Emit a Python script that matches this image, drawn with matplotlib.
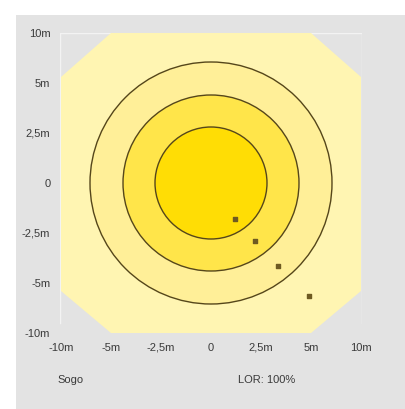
import numpy as np
import matplotlib
matplotlib.use("Agg")
import matplotlib.pyplot as plt
from matplotlib.patches import Circle, Polygon, Rectangle

plt.rcParams["font.family"] = ["Liberation Sans", "DejaVu Sans"]

# illuminance rings (radius in metres), outermost first
ring_radius = [7.1, 4.4, 2.8]
ring_colors = ["#FFEF98", "#FFE54A", "#FFDD05"]
# luminaire-area outline (metres)
area_x = [-5, 5, 10, 10, 5, -5, -10, -10]
area_y = [10, 10, 5.6, -5.8, -10, -10, -5.8, 5.6]
# small markers (metres)
mark_x = [1.2, 2.2, 3.35, 4.9]
mark_y = [-1.8, -2.9, -4.15, -6.3]
tick_vals = [-10, -5, -2.5, 0, 2.5, 5, 10]
tick_labels = ["-10m", "-5m", "-2,5m", "0", "2,5m", "5m", "10m"]
ytick_labels = ["-10m", "-5m", "-2,5m", "0", "2,5m", "5m", "10m"]

# the drawing's scale is not linear: 2.5m -> 50, 5m -> 100, 10m -> 150
scale_m = [-10, -5, -2.5, 0, 2.5, 5, 10]
scale_u = [-150, -100, -50, 0, 50, 100, 150]


def to_u(v):
    return np.interp(v, scale_m, scale_u)


fig = plt.figure(figsize=(4.06, 4.09), dpi=100)
fig.patch.set_facecolor("white")
fig.patches.append(Rectangle((16 / 406, 0), 1, (409 - 15) / 409,
                             transform=fig.transFigure, facecolor="#E3E3E3",
                             edgecolor="none", zorder=-10))

ax = fig.add_axes([60 / 406, (409 - 333) / 409, 302 / 406, 300 / 409])
ax.set_facecolor("none")
ax.set_xlim(-151, 151)
ax.set_ylim(-150, 150)
for s in ax.spines.values():
    s.set_visible(False)

# faint grid
for gx in [-151, -100, 100, 151]:
    ax.plot([gx, gx], [-140, 150], color="#F3F3F3", lw=1.0, zorder=0)
ax.plot([-151, 151], [150, 150], color="#F3F3F3", lw=1.0, zorder=0)

ax.add_patch(Polygon(np.column_stack([to_u(area_x), to_u(area_y)]),
                     closed=True, facecolor="#FFF5B2", edgecolor="none", zorder=1))

for r, c in zip(ring_radius, ring_colors):
    ax.add_patch(Circle((0, 0), to_u(r), facecolor=c, edgecolor="#55461A",
                        lw=1.0, zorder=2))

ax.scatter(to_u(mark_x), to_u(mark_y), marker="s", s=7, color="#6E5A22", zorder=3)

ax.set_xticks(to_u(tick_vals))
ax.set_xticklabels(tick_labels)
ax.set_yticks(to_u(tick_vals))
ax.set_yticklabels(ytick_labels)
ax.tick_params(length=0, labelsize=8, colors="#3A3A3A", pad=7)
for lab in ax.get_xticklabels()[:1]:
    lab.set_x(lab.get_position()[0])
ax.set_aspect("auto")

fig.text(71 / 406, 1 - 380 / 409, "Sogo", fontsize=8, color="#3A3A3A",
         ha="center", va="center")
fig.text(267 / 406, 1 - 380 / 409, "LOR: 100%", fontsize=8, color="#3A3A3A",
         ha="center", va="center")

fig.savefig("out.png", dpi=100)
